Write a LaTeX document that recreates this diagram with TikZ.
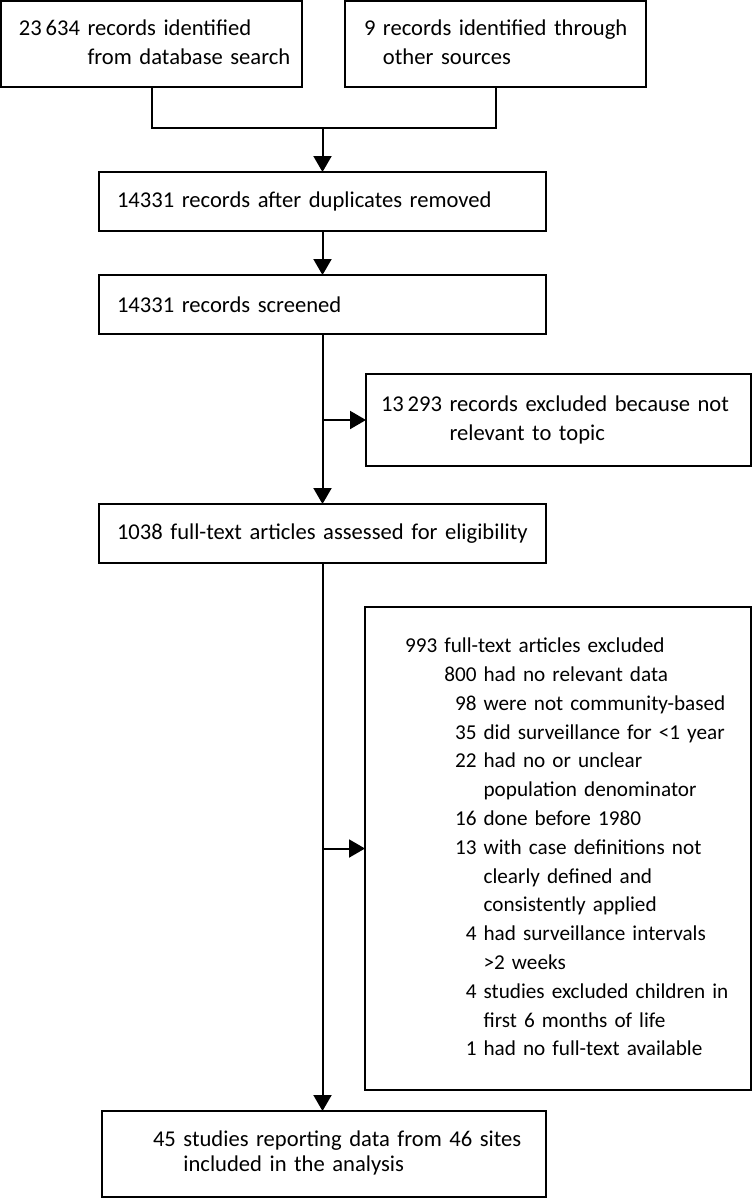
\documentclass[tikz,border=0pt]{standalone}
\usepackage{fontspec}
\setmainfont{Carlito}[WordSpace=0.85]
\usepackage{tikz}
\usetikzlibrary{
	positioning,
	arrows.meta
}

\begin{document}
\begin{tikzpicture}[
		box/.style={draw, line width=1pt, anchor=north west, outer sep=0pt,
			inner xsep=0pt, inner ysep=0pt, align=left,
			font=\fontsize{11.3}{14.4}\selectfont},
		link/.style={line width=1pt, -{Triangle[length=8pt,width=9pt]}}
	]
	\useasboundingbox (0,0) rectangle (376.5pt,-599.5pt);
	\draw
		node[box, minimum height=43pt, text width=150.5pt] at (0.5pt,-0.5pt) (dbase)
			{\hspace*{9pt}\begin{tabular}{@{}r@{\ }l@{}}
				23\,634 & records identified\\
				        & from database search
			\end{tabular}}
		node[box, minimum height=43pt, text width=150.5pt] at (172.5pt,-0.5pt) (other)
			{\hspace*{9.5pt}\begin{tabular}{@{}r@{\ }l@{}}
				9 & records identified through\\
				  & other sources
			\end{tabular}}
		node[box, minimum height=29.5pt, text width=223.5pt] at (49.5pt,-86pt) (dedup)
			{\hspace*{9pt}14331 records after duplicates removed}
		node[box, minimum height=29.5pt, text width=223.5pt] at (49.5pt,-137.5pt) (screen)
			{\hspace*{9pt}14331 records screened}
		node[box, minimum height=46pt, text width=192.5pt] at (183pt,-187pt) (excl1)
			{\hspace*{7.5pt}\begin{tabular}{@{}r@{\ }l@{}}
				13\,293 & records excluded because not\\
				        & relevant to topic
			\end{tabular}}
		node[box, minimum height=29.5pt, text width=223.5pt] at (49.5pt,-252pt) (full)
			{\hspace*{9pt}1038 full-text articles assessed for eligibility}
		node[box, minimum height=241.5pt, text width=193pt,
			font=\fontsize{10.6}{14.4}\selectfont] at (182.5pt,-303.5pt) (excl2)
			{\hspace*{20pt}\begin{tabular}{@{}r@{\ }l@{}}
				993 & full-text articles excluded\\
				    & \begin{tabular}[t]{@{}r@{\ }l@{}}
						800 & had no relevant data\\
						98  & were not community-based\\
						35  & did surveillance for <1 year\\
						22  & had no or unclear\\
						    & population denominator\\
						16  & done before 1980\\
						13  & with case definitions not\\
						    & clearly defined and\\
						    & consistently applied\\
						4   & had surveillance intervals\\
						    & >2 weeks\\
						4   & studies excluded children in\\
						    & first 6 months of life\\
						1   & had no full-text available
					\end{tabular}
			\end{tabular}}
		node[box, minimum height=43pt, text width=222pt,
			font=\fontsize{11.3}{12.6}\selectfont] at (51pt,-555.5pt) (incl)
			{\hspace*{25.5pt}\begin{tabular}{@{}r@{\ }l@{}}
				45 & studies reporting data from 46 sites\\
				   & included in the analysis
			\end{tabular}}
	;
	% connectors
	\draw[line width=1pt] (dbase.south) -- ++(0,-20.5pt) coordinate (bar) -| (other.south);
	\draw[link] (dedup.north |- bar) -- (dedup.north);
	\draw[link] (dedup.south) -- (screen.north);
	\draw[link] (screen.south) -- (full.north);
	\draw[link] (screen.south |- excl1.west) -- (excl1.west);
	\draw[link] (full.south) -- (full.south |- incl.north);
	\draw[link] (full.south |- excl2.west) -- (excl2.west);
\end{tikzpicture}
\end{document}
